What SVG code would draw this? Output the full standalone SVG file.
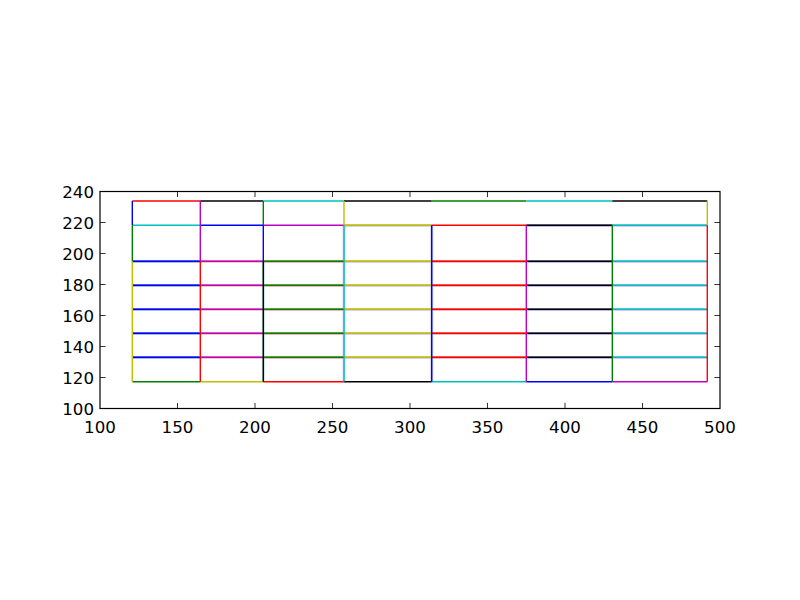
<svg xmlns="http://www.w3.org/2000/svg" width="800" height="600" viewBox="0 0 800 600">
<style>
.b{stroke:#0000ff}.g{stroke:#008000}.r{stroke:#ff0000}.c{stroke:#00bfbf}.m{stroke:#bf00bf}.y{stroke:#bfbf00}.k{stroke:#000000}
#grid line{stroke-width:1.4;fill:none}
#halo path{stroke-width:2.8;fill:none;stroke-opacity:0.55}
.tick{stroke:#000;stroke-width:0.8}
text{font-family:"DejaVu Sans",sans-serif;font-size:16.67px;fill:#000}
</style>
<rect width="800" height="600" fill="#fff"/>
<g id="halo">
<path stroke="#4060b0" d="M132.3 261.3H200.3M132.3 285.3H200.3M132.3 309.3H200.3M132.3 333.3H200.3M132.3 357.3H200.3"/>
<path stroke="#d08090" d="M200.3 261.3H263.3M200.3 285.3H263.3M200.3 309.3H263.3M200.3 333.3H263.3M200.3 357.3H263.3"/>
<path stroke="#b06040" d="M263.3 261.3H344M263.3 285.3H344M263.3 309.3H344M263.3 333.3H344M263.3 357.3H344"/>
<path stroke="#a0a0a0" d="M344 225.3H431.7M344 261.3H431.7M344 285.3H431.7M344 309.3H431.7M344 333.3H431.7M344 357.3H431.7"/>
<path stroke="#c06060" d="M431.7 261.3H526.3M431.7 285.3H526.3M431.7 309.3H526.3M431.7 333.3H526.3M431.7 357.3H526.3"/>
<path stroke="#6060c0" d="M526.3 225.3H612.3M526.3 261.3H612.3M526.3 285.3H612.3M526.3 309.3H612.3M526.3 333.3H612.3M526.3 357.3H612.3"/>
<path stroke="#8090e0" d="M612.3 225.3H707.3M612.3 261.3H707.3M612.3 285.3H707.3M612.3 309.3H707.3M612.3 333.3H707.3M612.3 357.3H707.3"/>
<path stroke="#80c0c0" d="M263.3 261.3V381.7"/>
<path stroke="#a0a0e0" d="M344 225.3V381.7M431.7 225.3V381.7"/>
</g>
<g id="grid">
<line class="r" x1="132.3" y1="201" x2="200.3" y2="201"/>
<line class="c" x1="132.3" y1="225.3" x2="200.3" y2="225.3"/>
<line class="b" x1="132.3" y1="261.3" x2="200.3" y2="261.3"/>
<line class="b" x1="132.3" y1="285.3" x2="200.3" y2="285.3"/>
<line class="b" x1="132.3" y1="309.3" x2="200.3" y2="309.3"/>
<line class="b" x1="132.3" y1="333.3" x2="200.3" y2="333.3"/>
<line class="b" x1="132.3" y1="357.3" x2="200.3" y2="357.3"/>
<line class="g" x1="132.3" y1="381.7" x2="200.3" y2="381.7"/>
<line class="k" x1="200.3" y1="201" x2="263.3" y2="201"/>
<line class="b" x1="200.3" y1="225.3" x2="263.3" y2="225.3"/>
<line class="m" x1="200.3" y1="261.3" x2="263.3" y2="261.3"/>
<line class="m" x1="200.3" y1="285.3" x2="263.3" y2="285.3"/>
<line class="m" x1="200.3" y1="309.3" x2="263.3" y2="309.3"/>
<line class="m" x1="200.3" y1="333.3" x2="263.3" y2="333.3"/>
<line class="m" x1="200.3" y1="357.3" x2="263.3" y2="357.3"/>
<line class="y" x1="200.3" y1="381.7" x2="263.3" y2="381.7"/>
<line class="c" x1="263.3" y1="201" x2="344" y2="201"/>
<line class="m" x1="263.3" y1="225.3" x2="344" y2="225.3"/>
<line class="g" x1="263.3" y1="261.3" x2="344" y2="261.3"/>
<line class="g" x1="263.3" y1="285.3" x2="344" y2="285.3"/>
<line class="g" x1="263.3" y1="309.3" x2="344" y2="309.3"/>
<line class="g" x1="263.3" y1="333.3" x2="344" y2="333.3"/>
<line class="g" x1="263.3" y1="357.3" x2="344" y2="357.3"/>
<line class="r" x1="263.3" y1="381.7" x2="344" y2="381.7"/>
<line class="k" x1="344" y1="201" x2="431.7" y2="201"/>
<line class="y" x1="344" y1="225.3" x2="431.7" y2="225.3"/>
<line class="y" x1="344" y1="261.3" x2="431.7" y2="261.3"/>
<line class="y" x1="344" y1="285.3" x2="431.7" y2="285.3"/>
<line class="y" x1="344" y1="309.3" x2="431.7" y2="309.3"/>
<line class="y" x1="344" y1="333.3" x2="431.7" y2="333.3"/>
<line class="y" x1="344" y1="357.3" x2="431.7" y2="357.3"/>
<line class="k" x1="344" y1="381.7" x2="431.7" y2="381.7"/>
<line class="g" x1="431.7" y1="201" x2="526.3" y2="201"/>
<line class="r" x1="431.7" y1="225.3" x2="526.3" y2="225.3"/>
<line class="r" x1="431.7" y1="261.3" x2="526.3" y2="261.3"/>
<line class="r" x1="431.7" y1="285.3" x2="526.3" y2="285.3"/>
<line class="r" x1="431.7" y1="309.3" x2="526.3" y2="309.3"/>
<line class="r" x1="431.7" y1="333.3" x2="526.3" y2="333.3"/>
<line class="r" x1="431.7" y1="357.3" x2="526.3" y2="357.3"/>
<line class="c" x1="431.7" y1="381.7" x2="526.3" y2="381.7"/>
<line class="c" x1="526.3" y1="201" x2="612.3" y2="201"/>
<line class="k" x1="526.3" y1="225.3" x2="612.3" y2="225.3"/>
<line class="k" x1="526.3" y1="261.3" x2="612.3" y2="261.3"/>
<line class="k" x1="526.3" y1="285.3" x2="612.3" y2="285.3"/>
<line class="k" x1="526.3" y1="309.3" x2="612.3" y2="309.3"/>
<line class="k" x1="526.3" y1="333.3" x2="612.3" y2="333.3"/>
<line class="k" x1="526.3" y1="357.3" x2="612.3" y2="357.3"/>
<line class="b" x1="526.3" y1="381.7" x2="612.3" y2="381.7"/>
<line class="k" x1="612.3" y1="201" x2="707.3" y2="201"/>
<line class="c" x1="612.3" y1="225.3" x2="707.3" y2="225.3"/>
<line class="c" x1="612.3" y1="261.3" x2="707.3" y2="261.3"/>
<line class="c" x1="612.3" y1="285.3" x2="707.3" y2="285.3"/>
<line class="c" x1="612.3" y1="309.3" x2="707.3" y2="309.3"/>
<line class="c" x1="612.3" y1="333.3" x2="707.3" y2="333.3"/>
<line class="c" x1="612.3" y1="357.3" x2="707.3" y2="357.3"/>
<line class="m" x1="612.3" y1="381.7" x2="707.3" y2="381.7"/>
<line class="b" x1="132.3" y1="201" x2="132.3" y2="225.3"/>
<line class="g" x1="132.3" y1="225.3" x2="132.3" y2="261.3"/>
<line class="y" x1="132.3" y1="261.3" x2="132.3" y2="381.7"/>
<line class="m" x1="200.3" y1="201" x2="200.3" y2="261.3"/>
<line class="r" x1="200.3" y1="261.3" x2="200.3" y2="381.7"/>
<line class="g" x1="263.3" y1="201" x2="263.3" y2="225.3"/>
<line class="b" x1="263.3" y1="225.3" x2="263.3" y2="261.3"/>
<line class="k" x1="263.3" y1="261.3" x2="263.3" y2="381.7"/>
<line class="y" x1="344" y1="201" x2="344" y2="225.3"/>
<line class="c" x1="344" y1="225.3" x2="344" y2="381.7"/>
<line class="b" x1="431.7" y1="225.3" x2="431.7" y2="381.7"/>
<line class="m" x1="526.3" y1="225.3" x2="526.3" y2="381.7"/>
<line class="g" x1="612.3" y1="225.3" x2="612.3" y2="381.7"/>
<line class="y" x1="707.3" y1="201" x2="707.3" y2="225.3"/>
<line class="r" x1="707.3" y1="225.3" x2="707.3" y2="381.7"/>
</g>
<g id="axes">
<rect x="100" y="191.5" width="620" height="217" fill="none" stroke="#000" stroke-width="1.2"/>
<g class="tick">
<path d="M177.5 408.5v-5.6M255 408.5v-5.6M332.5 408.5v-5.6M410 408.5v-5.6M487.5 408.5v-5.6M565 408.5v-5.6M642.5 408.5v-5.6"/>
<path d="M177.5 191.5v5.6M255 191.5v5.6M332.5 191.5v5.6M410 191.5v5.6M487.5 191.5v5.6M565 191.5v5.6M642.5 191.5v5.6"/>
<path d="M100 222.5h5.6M100 253.5h5.6M100 284.5h5.6M100 315.5h5.6M100 346.5h5.6M100 377.5h5.6"/>
<path d="M720 222.5h-5.6M720 253.5h-5.6M720 284.5h-5.6M720 315.5h-5.6M720 346.5h-5.6M720 377.5h-5.6"/>
</g>
<g text-anchor="middle">
<text x="100" y="432.5">100</text>
<text x="177.5" y="432.5">150</text>
<text x="255" y="432.5">200</text>
<text x="332.5" y="432.5">250</text>
<text x="410" y="432.5">300</text>
<text x="487.5" y="432.5">350</text>
<text x="565" y="432.5">400</text>
<text x="642.5" y="432.5">450</text>
<text x="720" y="432.5">500</text>
</g>
<g text-anchor="end">
<text x="94" y="197.5">240</text>
<text x="94" y="228.5">220</text>
<text x="94" y="259.5">200</text>
<text x="94" y="290.5">180</text>
<text x="94" y="321.5">160</text>
<text x="94" y="352.5">140</text>
<text x="94" y="383.5">120</text>
<text x="94" y="414.5">100</text>
</g>
</g>
</svg>
